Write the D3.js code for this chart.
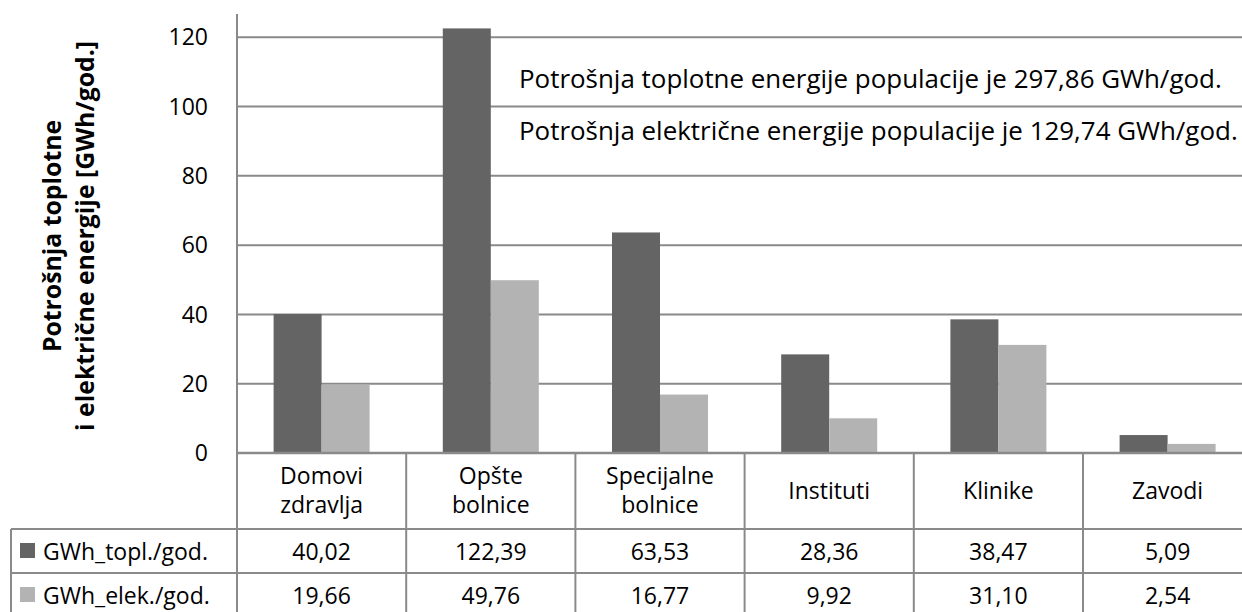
<!DOCTYPE html>
<html>
<head>
<meta charset="utf-8">
<script src="https://cdn.jsdelivr.net/npm/d3@7"></script>
<style>
  html, body { margin: 0; padding: 0; background: #fff; }
  svg { display: block; font-family: "Open Sans", sans-serif; }
</style>
</head>
<body>
<svg id="chart" width="1242" height="612"></svg>
<script>
const categories = ["Domovi\nzdravlja", "Opšte\nbolnice", "Specijalne\nbolnice", "Instituti", "Klinike", "Zavodi"];
const toplValues = [40.02, 122.39, 63.53, 28.36, 38.47, 5.09];
const elekValues = [19.66, 49.76, 16.77, 9.92, 31.10, 2.54];
const seriesNames = ["GWh_topl./god.", "GWh_elek./god."];
const seriesColors = ["#646464", "#b3b3b3"];
const yTicks = [0, 20, 40, 60, 80, 100, 120];
const yTitle = ["Potrošnja toplotne", "i električne energije [GWh/god.]"];
const notes = [
  "Potrošnja toplotne energije populacije je 297,86 GWh/god.",
  "Potrošnja električne energije populacije je 129,74 GWh/god."
];

const series = [toplValues, elekValues];
const fmt = v => d3.format(".2f")(v).replace(".", ",");

const svg = d3.select("#chart");
const gridColor = "#8a8a8a";
const FONT = "'Open Sans', sans-serif";
const FS = 23;

const plotLeft = 237, bandW = 169.2;
const plotRight = plotLeft + bandW * categories.length;
const yTop = 36.7, yZero = 452.7;
const headerBottom = 529, rowH = 44;
const legendLeft = 11;

function fitSize(sel, target) {
  const w = sel.node().getComputedTextLength();
  const fs = parseFloat(sel.style("font-size"));
  return w > 0 ? fs * target / w : fs;
}

const x = d3.scaleBand().domain(categories).range([plotLeft, plotRight]).padding(0);
const xs = d3.scaleBand().domain([0, 1]).range([0, x.bandwidth()]).paddingInner(0).paddingOuter(0.7625);
const y = d3.scaleLinear().domain([0, 120]).range([yZero, yTop]);

// gridlines + y tick labels
const yAxis = d3.axisLeft(y).tickValues(yTicks).tickSize(-(plotRight - plotLeft)).tickPadding(29).tickFormat(d3.format("d"));
const gy = svg.append("g").attr("transform", `translate(${plotLeft},0)`).call(yAxis);
gy.select(".domain").remove();
gy.selectAll(".tick line").attr("stroke", gridColor).attr("stroke-width", 2);
gy.selectAll(".tick text").attr("fill", "#000").style("font-size", FS + "px").style("font-family", FONT).attr("dy", "0.35em");

// bars
const groups = svg.append("g").selectAll("g").data(categories).join("g")
  .attr("transform", d => `translate(${x(d)},0)`);
groups.selectAll("rect").data((d, i) => series.map((s, si) => ({ si, v: s[i] }))).join("rect")
  .attr("x", d => xs(d.si))
  .attr("width", xs.bandwidth())
  .attr("y", d => y(d.v))
  .attr("height", d => y(0) - y(d.v))
  .attr("fill", d => seriesColors[d.si]);

// zero line on top
svg.append("line").attr("x1", plotLeft).attr("x2", plotRight).attr("y1", y(0)).attr("y2", y(0))
  .attr("stroke", gridColor).attr("stroke-width", 2);

// y axis line (extends through table)
svg.append("line").attr("x1", plotLeft).attr("x2", plotLeft).attr("y1", 14).attr("y2", 612)
  .attr("stroke", gridColor).attr("stroke-width", 2);

// data table lines
const tbl = svg.append("g").attr("stroke", gridColor).attr("stroke-width", 2);
categories.forEach((c, i) => {
  if (i > 0) tbl.append("line").attr("x1", x(c)).attr("x2", x(c)).attr("y1", yZero).attr("y2", 612);
});
[headerBottom, headerBottom + rowH].forEach(yy => {
  tbl.append("line").attr("x1", legendLeft).attr("x2", plotRight).attr("y1", yy).attr("y2", yy);
});
tbl.append("line").attr("x1", legendLeft).attr("x2", legendLeft).attr("y1", headerBottom).attr("y2", 612);

// category labels
const headerMid = (yZero + headerBottom) / 2;
categories.forEach(c => {
  const lines = c.split("\n");
  const t = svg.append("text").attr("text-anchor", "middle").style("font-family", FONT).style("font-size", FS + "px");
  lines.forEach((ln, li) => {
    t.append("tspan").attr("x", x(c) + x.bandwidth() / 2)
      .attr("y", headerMid + (li - (lines.length - 1) / 2) * 29 + 8)
      .text(ln);
  });
});

// table values and legend
series.forEach((s, si) => {
  const rowTop = headerBottom + si * rowH;
  const base = rowTop + 31;
  categories.forEach((c, i) => {
    svg.append("text").attr("text-anchor", "middle").style("font-family", FONT).style("font-size", FS + "px")
      .attr("x", x(c) + x.bandwidth() / 2).attr("y", base).text(fmt(s[i]));
  });
  svg.append("rect").attr("x", 20).attr("y", rowTop + 14).attr("width", 15).attr("height", 15).attr("fill", seriesColors[si]);
  svg.append("text").style("font-family", FONT).style("font-size", FS + "px")
    .attr("x", 43).attr("y", base).text(seriesNames[si]);
});

// notes
const noteWidths = [703, 719];
notes.forEach((n, i) => {
  const t = svg.append("text").style("font-family", FONT).style("font-size", FS + "px")
    .attr("x", 519).attr("y", 88 + i * 52).text(n);
  t.style("font-size", fitSize(t, noteWidths[i]) + "px");
});

// y title (both lines share one size fitted to the longer line)
const titleTexts = yTitle.map((ln, i) => svg.append("text")
  .attr("transform", "translate(0,236) rotate(-90)")
  .attr("text-anchor", "middle").style("font-family", FONT).style("font-weight", "bold").style("font-size", "22px")
  .attr("x", 0).attr("y", 61 + i * 33).text(ln));
const titleFS = fitSize(titleTexts[1], 390);
titleTexts.forEach(t => t.style("font-size", titleFS + "px"));
</script>
</body>
</html>
